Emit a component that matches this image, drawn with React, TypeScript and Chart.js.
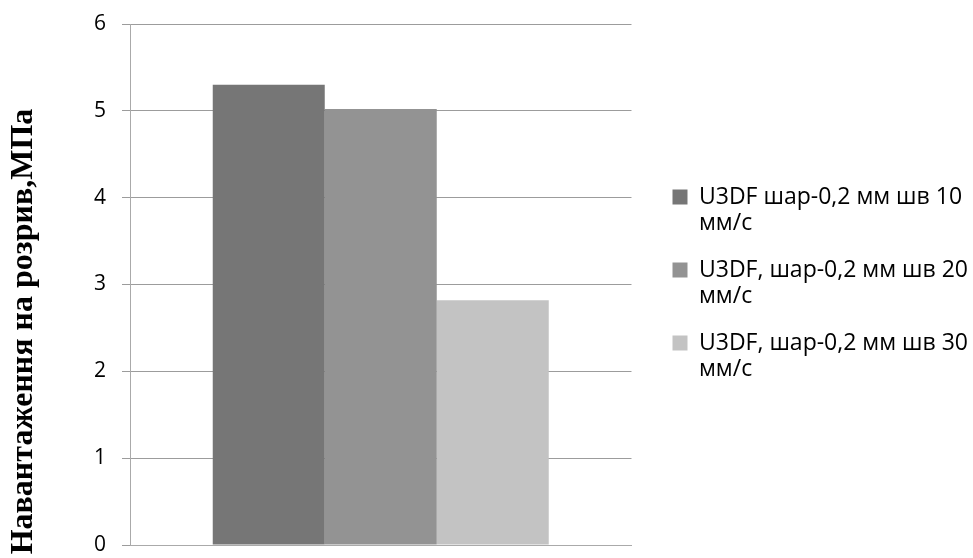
import React, { useEffect, useRef } from "react";
import { Chart, registerables } from "chart.js";

Chart.register(...registerables);

const categories: string[] = [""];
const seriesNames: string[][] = [
  ["U3DF шар-0,2 мм шв 10", "мм/с"],
  ["U3DF, шар-0,2 мм шв 20", "мм/с"],
  ["U3DF, шар-0,2 мм шв 30", "мм/с"],
];
const series1: number[] = [5.3];
const series2: number[] = [5.02];
const series3: number[] = [2.82];
const seriesColors: string[] = ["#767676", "#939393", "#c3c3c3"];
const yTicks: number[] = [0, 1, 2, 3, 4, 5, 6];
const yTitle = "Навантаження на розрив,МПа";

const LEGEND_FONT = { family: "'Open Sans', sans-serif", size: 23 };
const LEGEND_BOX = 15;
const LEGEND_PAD = 21;
const LEGEND_EXTRA = 20;
const LEGEND_RIGHT = 5;

const yTitlePlugin = {
  id: "yTitleCustom",
  afterDraw(chart: any) {
    const { ctx, chartArea } = chart;
    ctx.save();
    ctx.font = "bold 32px 'Liberation Serif', serif";
    ctx.fillStyle = "#000";
    ctx.textAlign = "center";
    ctx.textBaseline = "middle";
    const cy = (chartArea.top + chartArea.bottom) / 2 + 47;
    ctx.translate(24, cy);
    ctx.rotate(-Math.PI / 2);
    ctx.fillText(yTitle, 0, 0);
    ctx.restore();
  },
};

const legendWidenPlugin = {
  id: "legendWiden",
  beforeLayout(chart: any) {
    const lg = chart.legend;
    if (lg && !lg._widened) {
      const orig = lg.fit.bind(lg);
      lg.fit = function () {
        orig();
        const ctx = this.ctx;
        ctx.save();
        ctx.font = `${LEGEND_FONT.size}px ${LEGEND_FONT.family}`;
        let tw = 0;
        seriesNames.forEach((lines) =>
          lines.forEach((s) => {
            tw = Math.max(tw, ctx.measureText(s).width);
          })
        );
        ctx.restore();
        this.width = LEGEND_EXTRA + LEGEND_PAD + LEGEND_BOX + LEGEND_FONT.size / 2 + tw + LEGEND_RIGHT;
      };
      lg._widened = true;
    }
  },
  afterLayout(chart: any) {
    const lg = chart.legend;
    if (lg) {
      lg.left += LEGEND_EXTRA;
      lg.width -= LEGEND_EXTRA;
    }
  },
};

export default function App() {
  const ref = useRef<HTMLCanvasElement | null>(null);

  useEffect(() => {
    if (!ref.current) return;
    const values = [series1, series2, series3];
    const chart = new Chart(ref.current, {
      type: "bar",
      data: {
        labels: categories,
        datasets: values.map((v, i) => ({
          label: seriesNames[i].join(" "),
          data: v,
          backgroundColor: seriesColors[i],
          borderWidth: 0,
          categoryPercentage: 0.67,
          barPercentage: 1,
        })),
      },
      plugins: [legendWidenPlugin, yTitlePlugin],
      options: {
        animation: false,
        responsive: true,
        maintainAspectRatio: false,
        layout: { padding: { top: 24, bottom: 13, left: 0, right: 0 } },
        plugins: {
          tooltip: { enabled: false },
          legend: {
            position: "right",
            align: "center",
            labels: {
              boxWidth: LEGEND_BOX,
              boxHeight: LEGEND_BOX,
              padding: LEGEND_PAD,
              color: "#000",
              font: { ...LEGEND_FONT, lineHeight: 26 / LEGEND_FONT.size },
              generateLabels: (ch: any) =>
                ch.data.datasets.map((ds: any, i: number) => ({
                  text: seriesNames[i],
                  fillStyle: seriesColors[i],
                  strokeStyle: seriesColors[i],
                  lineWidth: 0,
                  hidden: false,
                  datasetIndex: i,
                })),
            },
          },
        },
        scales: {
          x: {
            afterFit: (scale: any) => {
              scale.height = 0;
            },
            grid: { display: false },
            border: { display: true, color: "#aaaaaa", width: 1 },
            ticks: { display: false },
          },
          y: {
            min: 0,
            max: 6,
            afterFit: (scale: any) => {
              scale.width = 130;
              scale.paddingTop = 0;
              scale.paddingBottom = 0;
            },
            afterBuildTicks: (scale: any) => {
              scale.ticks = yTicks.map((v) => ({ value: v }));
            },
            grid: { color: "#9c9c9c", tickLength: 8, lineWidth: 1 },
            border: { display: true, color: "#aaaaaa", width: 1 },
            ticks: {
              color: "#000",
              padding: 16,
              font: { family: "'Open Sans', sans-serif", size: 21 },
            },
          },
        },
      },
    });
    return () => chart.destroy();
  }, []);

  return (
    <div style={{ position: "absolute", left: 0, top: 0, width: 973, height: 558, background: "#fff" }}>
      <canvas ref={ref} />
    </div>
  );
}
